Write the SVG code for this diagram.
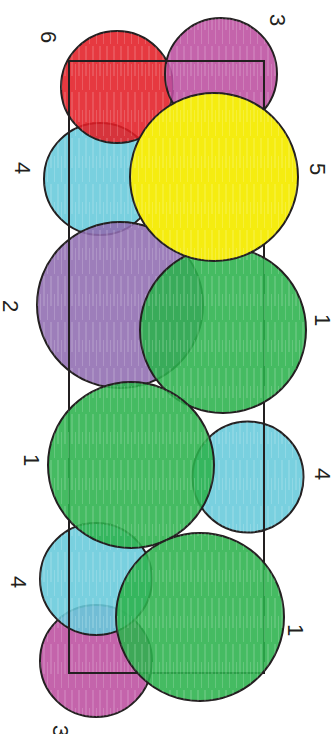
<svg xmlns="http://www.w3.org/2000/svg" width="336" height="734" viewBox="0 0 336 734">
<defs>
<pattern id="streak" width="7" height="46" patternUnits="userSpaceOnUse">
<line x1="2" y1="0" x2="2" y2="30" stroke="#ffffff" stroke-width="0.8" stroke-opacity="0.35"/>
<line x1="5.5" y1="18" x2="5.5" y2="44" stroke="#ffffff" stroke-width="0.7" stroke-opacity="0.25"/>
</pattern>
</defs>
<style>
.c{stroke:#231f20;stroke-width:2;fill-opacity:0.88}
.t{fill:url(#streak);stroke:none}
.red{fill:#e31e25}.mag{fill:#bc4f9f}.cyan{fill:#67c9db}.pur{fill:#8f6cb1}.grn{fill:#2bb24c}.yel{fill:#f5ec10;fill-opacity:1}
.lbl{font-family:"Liberation Sans",Arial,sans-serif;font-size:22px;fill:#231f20;text-anchor:middle;dominant-baseline:central}
.rect{fill:none;stroke:#231f20;stroke-width:2}
</style>
<g id="magenta-bottom"><circle class="c mag" cx="96" cy="661" r="56"/><circle class="t" cx="96" cy="661" r="56"/></g>
<g id="cyan-lower"><circle class="c cyan" cx="96" cy="579" r="56"/><circle class="t" cx="96" cy="579" r="56"/></g>
<g id="cyan-top"><circle class="c cyan" cx="100" cy="179" r="56"/><circle class="t" cx="100" cy="179" r="56"/></g>
<g id="red"><circle class="c red" cx="117" cy="87" r="56"/><circle class="t" cx="117" cy="87" r="56"/></g>
<g id="magenta-top"><circle class="c mag" cx="221" cy="74" r="56"/><circle class="t" cx="221" cy="74" r="56"/></g>
<g id="purple"><circle class="c pur" cx="120" cy="305" r="83"/><circle class="t" cx="120" cy="305" r="83"/></g>
<g id="cyan-right"><circle class="c cyan" cx="248" cy="477" r="55.5"/><circle class="t" cx="248" cy="477" r="55.5"/></g>
<g id="frame"><rect class="rect" x="69" y="61" width="195" height="612"/></g>
<g id="green-upper"><circle class="c grn" cx="223" cy="330" r="83"/><circle class="t" cx="223" cy="330" r="83"/></g>
<g id="green-left"><circle class="c grn" cx="131" cy="465" r="83"/><circle class="t" cx="131" cy="465" r="83"/></g>
<g id="green-bottom"><circle class="c grn" cx="200" cy="617" r="84"/><circle class="t" cx="200" cy="617" r="84"/></g>
<g id="yellow"><circle class="c yel" cx="214" cy="177" r="84"/><circle class="t" cx="214" cy="177" r="84"/></g>
<g id="labels">
<text class="lbl" transform="translate(277,20) rotate(90)">3</text>
<text class="lbl" transform="translate(48,37) rotate(90)">6</text>
<text class="lbl" transform="translate(22,168) rotate(90)">4</text>
<text class="lbl" transform="translate(317,169) rotate(90)">5</text>
<text class="lbl" transform="translate(10,306) rotate(90)">2</text>
<text class="lbl" transform="translate(322,320) rotate(90)">1</text>
<text class="lbl" transform="translate(31,460) rotate(90)">1</text>
<text class="lbl" transform="translate(322,474) rotate(90)">4</text>
<text class="lbl" transform="translate(18,582) rotate(90)">4</text>
<text class="lbl" transform="translate(295,630) rotate(90)">1</text>
<text class="lbl" transform="translate(60,731) rotate(90)">3</text>
</g>
</svg>
